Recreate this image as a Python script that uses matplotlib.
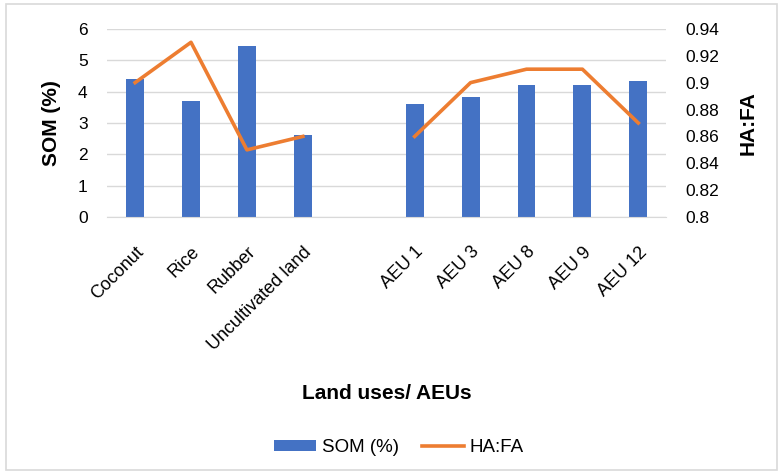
import numpy as np
import matplotlib.pyplot as plt
from matplotlib.patches import Rectangle

plt.rcParams['font.family'] = ['Liberation Sans', 'DejaVu Sans']

categories = ['Coconut', 'Rice', 'Rubber', 'Uncultivated land', '',
              'AEU 1', 'AEU 3', 'AEU 8', 'AEU 9', 'AEU 12']
som = [4.41, 3.71, 5.46, 2.61, np.nan, 3.60, 3.84, 4.22, 4.22, 4.35]
ha_fa = [0.90, 0.93, 0.85, 0.86, np.nan, 0.86, 0.90, 0.91, 0.91, 0.87]

blue = '#4472C4'
orange = '#ED7D31'
grid = '#D9D9D9'

fig = plt.figure(figsize=(7.82, 4.73), dpi=100)
fig.patches.append(Rectangle((0.008, 0.006), 0.986, 0.985, transform=fig.transFigure,
                             fill=False, edgecolor=grid, linewidth=1.2))

ax = fig.add_axes([0.137, 0.541, 0.715, 0.398])
x = np.arange(len(categories))
ax.bar(x, som, width=0.32, color=blue, label='SOM (%)', zorder=2)
ax.set_ylim(0, 6)
ax.set_yticks(np.arange(0, 7, 1))
ax.set_xlim(-0.5, len(categories) - 0.5)
ax.set_xticks(x)
ax.set_xticklabels(categories, rotation=45, ha='right', rotation_mode='anchor', fontsize=13)
ax.grid(axis='y', color=grid, linewidth=1, zorder=0)
for s in ['top', 'right', 'left']:
    ax.spines[s].set_visible(False)
ax.spines['bottom'].set_color(grid)
ax.tick_params(axis='both', length=0)
ax.tick_params(axis='y', pad=14, labelsize=12.5)
ax.tick_params(axis='x', pad=19)
ax.set_ylabel('SOM (%)', fontsize=15, fontweight='bold', labelpad=12)
ax.set_xlabel('Land uses/ AEUs', fontsize=15, fontweight='bold', labelpad=22)

ax2 = ax.twinx()
ax2.plot(x, ha_fa, color=orange, linewidth=2.6, label='HA:FA', zorder=3)
ax2.set_ylim(0.8, 0.94)
ax2.set_yticks(np.arange(0.8, 0.941, 0.02))
ax2.set_yticklabels(['0.8', '0.82', '0.84', '0.86', '0.88', '0.9', '0.92', '0.94'])
for s in ['top', 'right', 'left', 'bottom']:
    ax2.spines[s].set_visible(False)
ax2.tick_params(axis='y', length=0, labelsize=12.5, pad=14)
ax2.set_ylabel('HA:FA', fontsize=15, fontweight='bold', labelpad=14)

h1, l1 = ax.get_legend_handles_labels()
h2, l2 = ax2.get_legend_handles_labels()
fig.legend(h1 + h2, l1 + l2, loc='center', bbox_to_anchor=(0.51, 0.053), ncol=2,
           frameon=False, fontsize=13.5, handlelength=2.25, handleheight=0.5,
           columnspacing=1.2, handletextpad=0.3)

plt.savefig('out.png', dpi=100)
